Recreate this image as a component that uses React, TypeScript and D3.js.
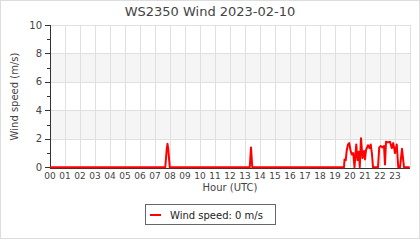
import React from "react";
import * as d3 from "d3";

const TITLE = "WS2350 Wind 2023-02-10";
const Y_TITLE = "Wind speed (m/s)";
const X_TITLE = "Hour (UTC)";
const LEGEND = "Wind speed: 0 m/s";

const hourLabels = ["00","01","02","03","04","05","06","07","08","09","10","11","12","13","14","15","16","17","18","19","20","21","22","23"];
const yMajor = [0, 2, 4, 6, 8, 10];
const yMinor = [1, 3, 5, 7, 9];
const bands = [[2, 4], [6, 8]];

const times = [
  "00:00","07:41","07:47","07:50","07:53","07:59",
  "13:19","13:24","13:29",
  "19:36","19:38","19:43","19:47","19:52","19:57","20:02","20:07","20:13","20:18",
  "20:25","20:30","20:35","20:39","20:44","20:50","20:56","21:00","21:04","21:12",
  "21:18","21:23","21:28","21:32","21:52","21:57","22:03","22:10","22:16","22:20",
  "22:24","22:33","22:40","22:47","22:53","23:00","23:07","23:13","23:20","23:28",
  "23:36","23:59"
];
const speeds = [
  0,0,1.3,1.65,1.3,0,
  0,1.4,0,
  0,0.55,0.5,1.2,1.6,1.7,1.2,0.9,1.0,0,
  1.6,0.5,1.1,0,2.05,0.65,1.15,0.55,1.2,1.55,
  1.35,1.6,0.9,0,0,1.4,1.5,1.4,1.5,0.2,
  1.8,1.75,1.8,1.35,1.7,1.0,1.6,0,0,1.3,
  0,0
];

const W = 420, H = 240;
const FONT = "DejaVu Sans, sans-serif";

export default function App() {
  const x = d3.scaleLinear().domain([0, 24]).range([50, 410]);
  const y = d3.scaleLinear().domain([0, 10]).range([167.3, 25]);
  const toH = (t: string) => { const [h, m] = t.split(":").map(Number); return h + m / 60; };
  const data = times.map((t, i) => [toH(t), speeds[i]] as [number, number]);
  const line = d3.line<[number, number]>().x(d => x(d[0])).y(d => y(d[1]));
  const hours = d3.range(0, 25);

  return (
    <svg width={W} height={H} style={{ position: "absolute", left: 0, top: 0, background: "#fff" }} fontFamily={FONT}>
      <rect x={0.5} y={0.5} width={W - 1} height={H - 2} fill="#fff" stroke="#ddd" />
      {bands.map(([a, b], i) => (
        <rect key={i} x={x(0)} y={y(b)} width={x(24) - x(0)} height={y(a) - y(b)} fill="#f5f5f5" />
      ))}
      {hours.map(h => (
        <line key={"v" + h} x1={Math.round(x(h)) + 0.5} x2={Math.round(x(h)) + 0.5} y1={y(10)} y2={y(0)} stroke="#e0e0e0" />
      ))}
      {yMajor.filter(v => v > 0).map(v => (
        <line key={"h" + v} x1={x(0)} x2={x(24)} y1={Math.round(y(v)) + 0.5} y2={Math.round(y(v)) + 0.5} stroke="#e0e0e0" />
      ))}
      <text x={210} y={16} textAnchor="middle" fontSize={13} fill="#444">{TITLE}</text>
      {yMajor.map(v => (
        <g key={"yt" + v}>
          <line x1={45} x2={50} y1={Math.round(y(v)) + 0.5} y2={Math.round(y(v)) + 0.5} stroke="#333" />
          <text x={42} y={y(v)} dy="0.35em" textAnchor="end" fontSize={10} fill="#444">{v}</text>
        </g>
      ))}
      {yMinor.map(v => (
        <line key={"ym" + v} x1={47} x2={50} y1={Math.round(y(v)) + 0.5} y2={Math.round(y(v)) + 0.5} stroke="#333" />
      ))}
      {hourLabels.map((l, i) => (
        <text key={"xl" + i} x={x(i)} y={179} textAnchor="middle" fontSize={9} fill="#444">{l}</text>
      ))}
      <line x1={50.5} x2={50.5} y1={25} y2={169} stroke="#333" />
      <line x1={50} x2={410} y1={168.5} y2={168.5} stroke="#333" />
      <path d={line(data) || ""} fill="none" stroke="#f00" strokeWidth={2} strokeLinejoin="round" />
      <text x={x(12)} y={191} textAnchor="middle" fontSize={10} fill="#444">{X_TITLE}</text>
      <text transform={`translate(18,${(25 + 168) / 2}) rotate(-90)`} textAnchor="middle" fontSize={10} fill="#444">{Y_TITLE}</text>
      <rect x={145.5} y={204.5} width={130} height={20} fill="#fff" stroke="#666" />
      <line x1={150} x2={161} y1={215} y2={215} stroke="#f00" strokeWidth={2} />
      <text x={170} y={218.5} fontSize={10} fill="#222">{LEGEND}</text>
    </svg>
  );
}
